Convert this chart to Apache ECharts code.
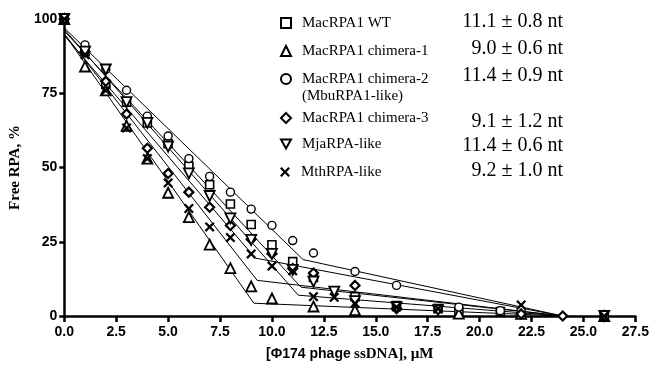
<!DOCTYPE html>
<html><head><meta charset="utf-8">
<script src="https://cdn.jsdelivr.net/npm/echarts@6/dist/echarts.min.js"></script>
<style>html,body{margin:0;padding:0;background:#fff}#c{width:652px;height:367px}</style>
</head><body><div id="c"></div>
<script>
// ---- data ----
const seriesNames = ['MacRPA1 WT','MacRPA1 chimera-1','MacRPA1 chimera-2','MacRPA1 chimera-3','MjaRPA-like','MthRPA-like'];
const siteSizes = ['11.1 \u00b1 0.8 nt','9.0 \u00b1 0.6 nt','11.4 \u00b1 0.9 nt','9.1 \u00b1 1.2 nt','11.4 \u00b1 0.6 nt','9.2 \u00b1 1.0 nt'];
const noteLabel = '(MbuRPA1-like)';

const wtX = [0,1,2,3,4,5,6,7,8,9,10,11,12,14,16,18,19,21,26];
const wtY = [100,89,78,72,65,58,50.5,44.2,37.7,30.8,24,18.3,13,6.5,3.5,2.5,1.5,1.5,0];
const ch1X = [0,1,2,3,4,5,6,7,8,9,10,12,14,19,22,26];
const ch1Y = [100,84,76,64,53,41.5,33.3,24,16.1,10,5.9,3.2,2,0.8,0.7,0];
const ch2X = [0,1,2,3,4,5,6,7,8,9,10,11,12,14,16,19,21,22,26];
const ch2Y = [100,91.3,83,76,67.3,60.6,53,47,41.7,36,30.5,25.4,21.2,15,10.3,3,1.8,2,0];
const ch3X = [0,1,2,3,4,5,6,7,8,9,10,11,12,14,16,22,24];
const ch3Y = [100,89,79,68,56.5,48,41.7,36.6,30.5,25.8,21,16,14.5,10.3,2.5,0.7,0];
const mjaX = [0,1,2,3,4,5,6,7,8,9,10,11,12,13,14,16,18,26];
const mjaY = [100,89,83,72,65,57,48,40.4,32.9,25.6,20.9,15.5,11.6,8.2,5,3,2,0];
const mthX = [0,1,2,3,4,5,6,7,8,9,10,11,12,13,14,16,18,22,26];
const mthY = [100,88,76,63.3,53,44.8,36.2,30,26.4,20.9,16.8,15.2,6.5,6.3,4.3,3,2.5,3.7,0];

// two-segment fit lines (start, breakpoint, end)
const wtFitX = [0,11.4,24],  wtFitY = [96,9.7,0];
const ch1FitX = [0,9.13,24], ch1FitY = [95,4.3,0];
const ch2FitX = [0,11.5,24], ch2FitY = [97,19,0];
const ch3FitX = [0,9.2,24],  ch3FitY = [94.5,19.5,0];
const mjaFitX = [0,11.27,24], mjaFitY = [96.5,7,0];
const mthFitX = [0,9.29,24], mthFitY = [95,12,0];

const xTickLabels = ['0.0','2.5','5.0','7.5','10.0','12.5','15.0','17.5','20.0','22.5','25.0','27.5'];
const yTickLabels = ['0','25','50','75','100'];

// ---- layout / style ----
const zip = (a,b)=>a.map((v,i)=>[v,b[i]]);
const pts = [zip(wtX,wtY),zip(ch1X,ch1Y),zip(ch2X,ch2Y),zip(ch3X,ch3Y),zip(mjaX,mjaY),zip(mthX,mthY)];
const fits = [zip(wtFitX,wtFitY),zip(ch1FitX,ch1FitY),zip(ch2FitX,ch2FitY),zip(ch3FitX,ch3FitY),zip(mjaFitX,mjaFitY),zip(mthFitX,mthFitY)];
const xPath = 'path://M0,1.6L1.6,0L5,3.4L8.4,0L10,1.6L6.6,5L10,8.4L8.4,10L5,6.6L1.6,10L0,8.4L3.4,5Z';
const invTriPath = 'path://M0,0L10,0L5,9Z';
const markers = [
  {symbol:'rect', size:8, rot:0, bw:1.6, fill:'#fff', icon:'rect'},
  {symbol:'triangle', size:10, rot:0, bw:1.8, fill:'#fff', icon:'triangle'},
  {symbol:'circle', size:8, rot:0, bw:1.4, fill:'#fff', icon:'circle'},
  {symbol:'diamond', size:9, rot:0, bw:2.2, fill:'#fff', icon:'diamond'},
  {symbol:'triangle', size:10, rot:180, bw:1.8, fill:'#fff', icon:invTriPath},
  {symbol:xPath, size:10, rot:0, bw:0, fill:'#000', icon:xPath}
];
const legendRowY = [23,51,79,118,144,172];
const valueRowY = [23,50,77,123,147,172];

const serif = 'Liberation Serif';
const sans = 'Liberation Sans';

const series = [];
fits.forEach((d,i)=>series.push({
  name:'fit'+i, type:'line', data:d, symbol:'none', silent:true, z:1,
  lineStyle:{color:'#000', width:1}, animation:false
}));
pts.forEach((d,i)=>{
  const m = markers[i];
  series.push({
    name:seriesNames[i], type:'scatter', data:d, symbol:m.symbol, symbolSize:m.size,
    symbolRotate:m.rot, z:2, animation:false,
    itemStyle:{color:m.fill, borderColor:'#000', borderWidth:m.bw, opacity:1}
  });
});

const legends = seriesNames.map((n,i)=>({
  data:[{name:n, icon:markers[i].icon}], orient:'vertical', left:280, top:legendRowY[i]-8,
  itemWidth:10, itemHeight:10, selectedMode:false, padding:0, symbolRotate:0,
  textStyle:{fontFamily:serif, fontSize:15, color:'#000', lineHeight:16, padding:[0,0,0,6]}
}));

const graphics = siteSizes.map((t,i)=>({
  type:'text', right:89, top:valueRowY[i]-11,
  style:{text:t, font:'20px "Liberation Serif"', fill:'#000'}
}));
graphics.push({type:'text', left:302, top:97-8, style:{text:noteLabel, font:'15px "Liberation Serif"', fill:'#000'}});

const chart = echarts.init(document.getElementById('c'), null, {renderer:'canvas'});
chart.setOption({
  backgroundColor:'#fff',
  animation:false,
  grid:{left:60, right:14, top:19, bottom:44, containLabel:false},
  legend:legends,
  graphic:graphics,
  xAxis:{
    type:'value', min:0, max:27.5, interval:2.5,
    name:'{a|[\u03a6174 phage} {b|ssDNA], \u00b5M}', nameLocation:'middle', nameGap:31,
    nameTextStyle:{rich:{
      a:{fontFamily:sans, fontWeight:'bold', fontSize:14, color:'#000'},
      b:{fontFamily:serif, fontWeight:'bold', fontSize:15, color:'#000'}
    }},
    axisLine:{show:true, onZero:false, lineStyle:{color:'#000', width:2.5}},
    axisTick:{show:true, length:6, lineStyle:{color:'#000', width:2.5}},
    axisLabel:{margin:9, fontFamily:sans, fontWeight:'bold', fontSize:14, color:'#000',
      formatter:(v)=>xTickLabels[Math.round(v/2.5)]},
    splitLine:{show:false}
  },
  yAxis:{
    type:'value', min:0, max:100, interval:25,
    name:'Free RPA, %', nameLocation:'middle', nameGap:38,
    nameTextStyle:{fontFamily:serif, fontWeight:'bold', fontSize:15, color:'#000'},
    axisLine:{show:true, onZero:false, lineStyle:{color:'#000', width:2.5}},
    axisTick:{show:true, length:5, lineStyle:{color:'#000', width:2.5}},
    axisLabel:{margin:7, fontFamily:sans, fontWeight:'bold', fontSize:14, color:'#000',
      formatter:(v)=>yTickLabels[Math.round(v/25)]},
    splitLine:{show:false}
  },
  series:series
});
</script></body></html>
